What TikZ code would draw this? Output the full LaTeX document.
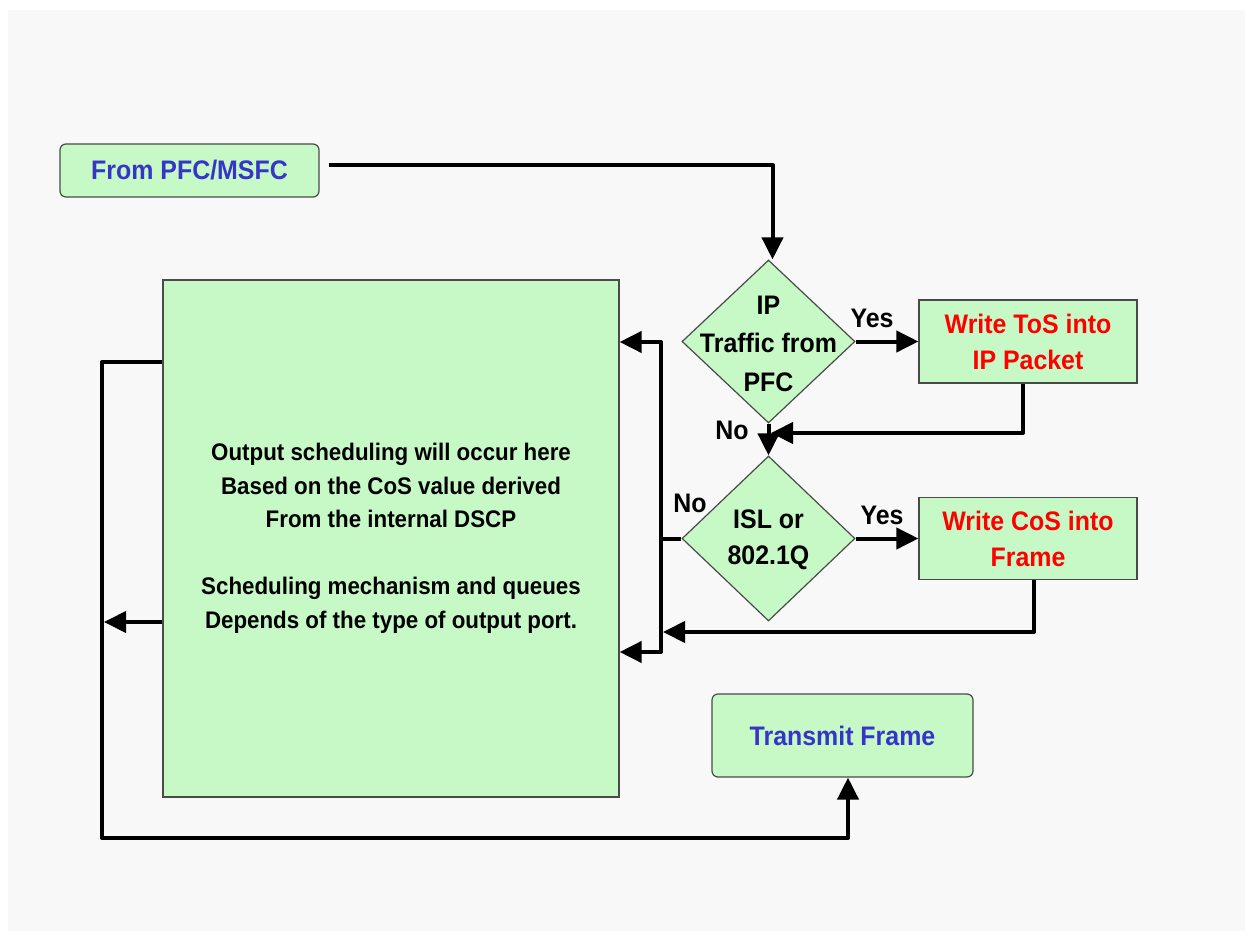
\documentclass[tikz,border=0pt]{standalone}
\usepackage{fontspec}
\setmainfont{Liberation Sans}[FakeStretch=0.93]
\usetikzlibrary{arrows.meta,shapes.geometric}
\definecolor{boxfill}{HTML}{C6F9C6}
\definecolor{boxline}{HTML}{4A4A4A}
\definecolor{txtblue}{HTML}{3535C8}
\definecolor{txtred}{HTML}{FF0000}
\definecolor{bggray}{HTML}{F8F8F8}
\begin{document}
\begin{tikzpicture}[x=1pt,y=-1pt,
  >={Triangle[length=22pt,width=21pt]},
  base/.style={draw=boxline, line width=1.2pt, fill=boxfill},
  roundbox/.style={base, rounded corners=6pt},
  plainbox/.style={base},
  decision/.style={base, diamond, inner sep=0pt},
  lbl/.style={font=\bfseries\fontsize{26.8}{36}\selectfont, align=center},
  bigtext/.style={font=\bfseries\fontsize{24}{33.5}\selectfont, align=center},
  flow/.style={line width=4pt, line join=round},
  arr/.style={flow, ->},
]
\useasboundingbox (0,0) rectangle (1245,931);
\fill[bggray] (8,10) rectangle (1245,931);

% nodes
\node[roundbox, minimum width=259pt, minimum height=53pt, lbl, text=txtblue] (from) at (189.5,170.5) {From PFC/MSFC};
\node[plainbox, minimum width=456pt, minimum height=517pt, bigtext] (big) at (391,538.5)
  {Output scheduling will occur here\\Based on the CoS value derived\\From the internal DSCP\\[33.5pt]Scheduling mechanism and queues\\Depends of the type of output port.};
\node[decision, minimum width=173pt, minimum height=163pt] (d1) at (768.5,341.5) {};
\node[lbl, font=\bfseries\fontsize{26.8}{38.5}\selectfont] (d1t) at ([yshift=-2pt]d1.center) {IP\\Traffic from\\PFC};
\node[decision, minimum width=173pt, minimum height=165pt] (d2) at (768.5,538.5) {};
\node[lbl] (d2t) at ([yshift=-1.5pt]d2.center) {ISL or\\802.1Q};
\node[plainbox, minimum width=218pt, minimum height=83pt, lbl, text=txtred] (box1) at (1028,341.5) {Write ToS into\\IP Packet};
\node[plainbox, minimum width=218pt, minimum height=82pt, lbl, text=txtred] (box2) at (1028,538.5) {Write CoS into\\Frame};
\node[roundbox, minimum width=261pt, minimum height=83pt, lbl, text=txtblue] (tx) at (842.5,735.5) {Transmit Frame};

% labels
\node[lbl] (yes1) at (872,318) {Yes};
\node[lbl] (no1) at (732,430) {No};
\node[lbl] (yes2) at (882,515) {Yes};
\node[lbl] (no2) at (690,503) {No};

% coordinates
\coordinate (m1) at (771,433);
\coordinate (m2) at (663,632);
\coordinate (bt) at (661,342);
\coordinate (bb) at (661,652);
\coordinate (l1) at (102,362);
\coordinate (l2) at (102,838);
\coordinate (l3) at (104,622);

% connectors
\draw[arr] ([xshift=9pt,yshift=5.5pt]from.east) -| ([xshift=4pt]d1.north);
\draw[arr] (d1.east) -- (box1.west);
\draw[arr] ([xshift=-5pt]box1.south) |- (m1);
\draw[arr] (d1.south) -- (d2.north);
\draw[arr] (d2.east) -- (box2.west);
\draw[arr] ([xshift=6pt]box2.south) |- (m2);
\draw[flow, <->] (big.east |- bt) -- (bt) -- (bb) -- (big.east |- bb);
\draw[flow] (d2.west) -- (d2.west -| bt);
\draw[arr] (big.west |- l1) -- (l1) -- (l2) -| ([xshift=5.5pt]tx.south);
\draw[arr] (big.west |- l3) -- (l3);
\end{tikzpicture}
\end{document}
